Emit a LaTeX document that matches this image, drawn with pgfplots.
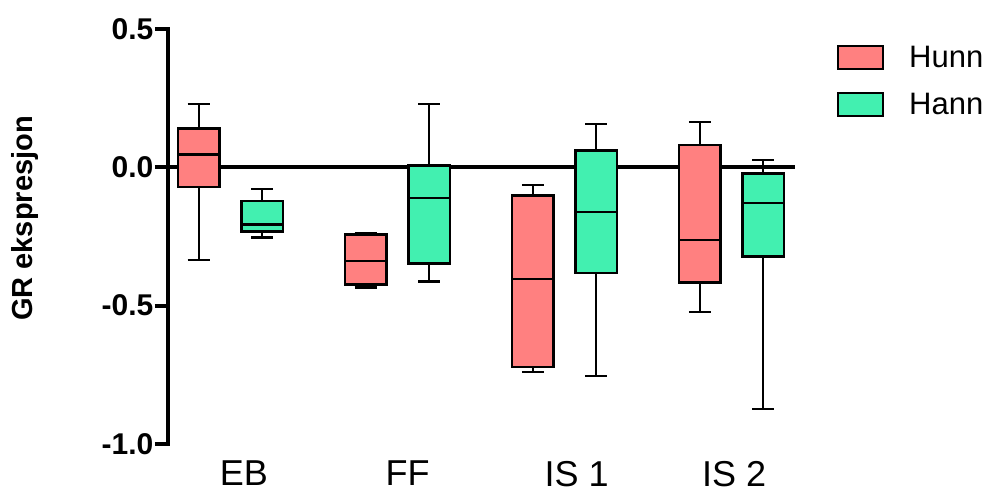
\documentclass[border=0pt]{standalone}
\usepackage{pgfplots}
\pgfplotsset{compat=1.18}
\usepackage{fontspec}
\setmainfont{Liberation Sans}
\definecolor{hunn}{RGB}{255,128,128}
\definecolor{hann}{RGB}{66,240,176}
% #1 position, #2 fill colour, #3 lower whisker, #4 lower quartile, #5 median, #6 upper quartile, #7 upper whisker
\newcommand{\gbox}[7]{%
  \addplot[black, line width=2.4pt, forget plot] coordinates {(#1,#4) (#1,#3)};
  \addplot[black, line width=2.4pt, forget plot] coordinates {(#1-0.066,#3) (#1+0.066,#3)};
  \addplot[black, line width=2.4pt, forget plot] coordinates {(#1,#6) (#1,#7)};
  \addplot[black, line width=2.4pt, forget plot] coordinates {(#1-0.066,#7) (#1+0.066,#7)};
  \addplot[draw=black, fill=#2, line width=2.4pt, forget plot] coordinates {(#1-0.125,#4) (#1+0.125,#4) (#1+0.125,#6) (#1-0.125,#6)} -- cycle;
  \addplot[black, line width=2.4pt, forget plot] coordinates {(#1-0.125,#5) (#1+0.125,#5)};
}
\begin{document}
\begin{tikzpicture}
\useasboundingbox (0,0) rectangle (990pt,493pt);
\begin{axis}[
  at={(168pt,49pt)}, anchor=south west,
  scale only axis, width=627pt, height=415pt,
  xmin=0.626, xmax=4.38, ymin=-1.0, ymax=0.5,
  clip=false,
  axis y line*=left, axis x line*=bottom,
  x axis line style={draw=none},
  y axis line style={line width=4.5pt, line cap=rect},
  ytick={-1,-0.5,0,0.5},
  yticklabels={-1.0,-0.5,0.0,0.5},
  yticklabel style={font=\fontsize{30}{30}\selectfont\bfseries, inner sep=1.5pt},
  ytick style={line width=4pt, black},
  tick align=outside,
  major tick length=13pt,
  minor tick num=0,
  xtick={1.081,2.060,3.072,4.015},
  xticklabels={EB,FF,IS 1,IS 2},
  xtick style={draw=none},
  xticklabel style={font=\fontsize{36}{36}\selectfont, inner sep=2pt, yshift=-2pt},
  ylabel={GR ekspresjon},
  ylabel style={font=\fontsize{29}{29}\selectfont\bfseries, at={(axis description cs:0,0.5)}, anchor=center, xshift=18pt, yshift=143pt},
  legend image code/.code={\draw[#1, line width=2pt] (0pt,-11.5pt) rectangle (45.3pt,11.5pt);},
  legend style={draw=none, fill=none, at={(axis description cs:1.0665,0.962)}, anchor=north west, inner sep=0pt,
    font=\fontsize{31}{31}\selectfont, row sep=22pt, nodes={inner sep=0pt}},
  legend cell align=left,
  /tikz/every odd column/.append style={column sep=25pt},
]
\addplot[black, line width=4pt, forget plot] coordinates {(0.626,0) (4.38,0)};
% Hunn
\gbox{0.81}{hunn}{-0.335}{-0.072}{0.046}{0.140}{0.229}
\gbox{1.81}{hunn}{-0.434}{-0.423}{-0.339}{-0.243}{-0.237}
\gbox{2.81}{hunn}{-0.739}{-0.721}{-0.404}{-0.102}{-0.063}
\gbox{3.81}{hunn}{-0.522}{-0.416}{-0.263}{0.081}{0.163}
% Hann
\gbox{1.19}{hann}{-0.254}{-0.232}{-0.207}{-0.122}{-0.078}
\gbox{2.19}{hann}{-0.413}{-0.348}{-0.111}{0.007}{0.228}
\gbox{3.19}{hann}{-0.755}{-0.382}{-0.161}{0.061}{0.157}
\gbox{4.19}{hann}{-0.873}{-0.323}{-0.129}{-0.023}{0.027}
\addlegendimage{draw=black, fill=hunn}
\addlegendentry{Hunn}
\addlegendimage{draw=black, fill=hann}
\addlegendentry{Hann}
\end{axis}
\end{tikzpicture}
\end{document}
